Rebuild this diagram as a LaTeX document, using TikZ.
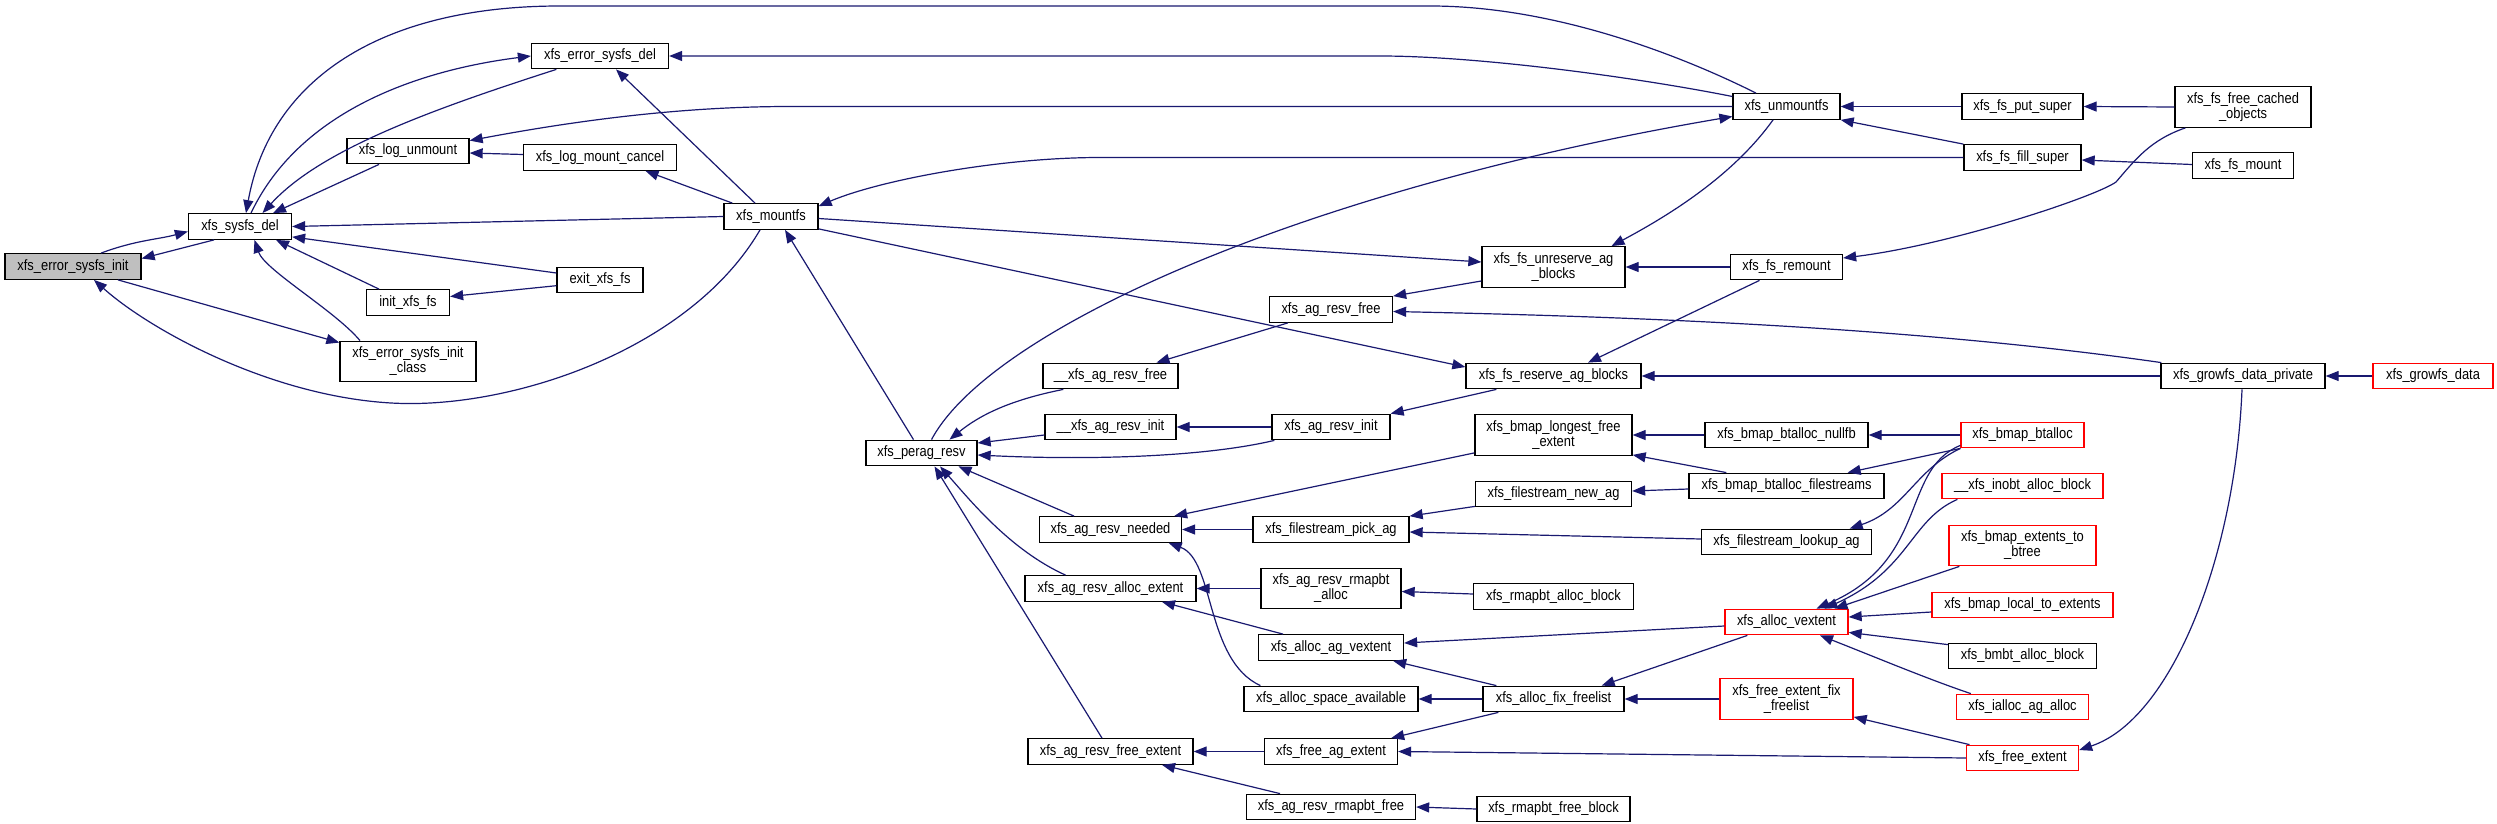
\documentclass[tikz,border=0pt]{standalone}
\usepackage{fontspec}
\setmainfont{Liberation Sans}[FakeStretch=0.86]
\usetikzlibrary{arrows.meta,calc}
\definecolor{edgec}{HTML}{191970}
\definecolor{rootgray}{HTML}{BFBFBF}
\tikzset{
  fn/.style={draw=black, line width=1.3pt, fill=white, rectangle, minimum height=25.5pt, inner sep=0pt, align=center, font=\fontsize{15}{15}\selectfont},
  rootnode/.style={fn, fill=rootgray},
  trunc/.style={fn, draw=red},
  tall/.style={minimum height=40.5pt},
  callarrow/.style={draw=edgec, line width=1.2pt, -{Triangle[length=13pt,width=10pt]}},
}
\begin{document}
\begin{tikzpicture}[x=1pt,y=-1pt]
\fill[white] (0,0) rectangle (2497,824);
\useasboundingbox (0,0) rectangle (2497,824);
% rank A-E
\node[rootnode, minimum width=136pt] (esinit) at (73,266.5) {xfs\_error\_sysfs\_init};
\node[fn, minimum width=103pt] (sysdel) at (240,226.5) {xfs\_sysfs\_del};
\node[fn, minimum width=122pt] (logun) at (408,151) {xfs\_log\_unmount};
\node[fn, minimum width=83pt] (initfs) at (408,302.5) {init\_xfs\_fs};
\node[fn, tall, minimum width=136pt] (esclass) at (408,361.5) {xfs\_error\_sysfs\_init\\\_class};
\node[fn, minimum width=137pt] (esdel) at (600,56) {xfs\_error\_sysfs\_del};
\node[fn, minimum width=153pt] (logcancel) at (600,157.5) {xfs\_log\_mount\_cancel};
\node[fn, minimum width=86pt] (exitfs) at (600,280) {exit\_xfs\_fs};
\node[fn, minimum width=94pt] (mountfs) at (771,216.5) {xfs\_mountfs};
% rank F-G
\node[fn, minimum width=111pt] (perag) at (921.5,453) {xfs\_perag\_resv};
\node[fn, minimum width=135pt] (uagfree) at (1110.5,376) {\_\_xfs\_ag\_resv\_free};
\node[fn, minimum width=131pt] (uaginit) at (1110.5,427) {\_\_xfs\_ag\_resv\_init};
\node[fn, minimum width=142pt] (needed) at (1110.5,529.5) {xfs\_ag\_resv\_needed};
\node[fn, minimum width=171pt] (allocext) at (1110.5,588.5) {xfs\_ag\_resv\_alloc\_extent};
\node[fn, minimum width=165pt] (freeext) at (1110.5,751.5) {xfs\_ag\_resv\_free\_extent};
% rank H
\node[fn, minimum width=123pt] (agfree) at (1331,309.5) {xfs\_ag\_resv\_free};
\node[fn, minimum width=118pt] (aginit) at (1331,427) {xfs\_ag\_resv\_init};
\node[fn, minimum width=156pt] (pickag) at (1331,529.5) {xfs\_filestream\_pick\_ag};
\node[fn, tall, minimum width=140pt] (rmapalloc) at (1331,588.5) {xfs\_ag\_resv\_rmapbt\\\_alloc};
\node[fn, minimum width=145pt] (allocagv) at (1331,647.5) {xfs\_alloc\_ag\_vextent};
\node[fn, minimum width=174pt] (spaceavail) at (1331,699) {xfs\_alloc\_space\_available};
\node[fn, minimum width=133pt] (freeagext) at (1331,751.5) {xfs\_free\_ag\_extent};
\node[fn, minimum width=169pt] (rmapfree) at (1331,807) {xfs\_ag\_resv\_rmapbt\_free};
% rank I
\node[fn, tall, minimum width=143pt] (unreserve) at (1553.5,267) {xfs\_fs\_unreserve\_ag\\\_blocks};
\node[fn, minimum width=175pt] (reserve) at (1553.5,376) {xfs\_fs\_reserve\_ag\_blocks};
\node[fn, tall, minimum width=157pt] (longest) at (1553.5,435) {xfs\_bmap\_longest\_free\\\_extent};
\node[fn, minimum width=156pt] (newag) at (1553.5,494) {xfs\_filestream\_new\_ag};
\node[fn, minimum width=160pt] (rmapallocblk) at (1553.5,596.5) {xfs\_rmapbt\_alloc\_block};
\node[fn, minimum width=141pt] (fixfree) at (1553.5,699) {xfs\_alloc\_fix\_freelist};
\node[fn, minimum width=153pt] (rmapfreeblk) at (1553.5,809) {xfs\_rmapbt\_free\_block};
% rank J
\node[fn, minimum width=107pt] (unmountfs) at (1786.5,106.5) {xfs\_unmountfs};
\node[fn, minimum width=112pt] (remount) at (1786.5,267) {xfs\_fs\_remount};
\node[fn, minimum width=163pt] (nullfb) at (1786.5,435) {xfs\_bmap\_btalloc\_nullfb};
\node[fn, minimum width=195pt] (filestreams) at (1786.5,486) {xfs\_bmap\_btalloc\_filestreams};
\node[fn, minimum width=170pt] (lookupag) at (1786.5,542) {xfs\_filestream\_lookup\_ag};
\node[trunc, minimum width=123pt] (allocv) at (1786.5,622) {xfs\_alloc\_vextent};
\node[trunc, tall, minimum width=133pt] (fefix) at (1786.5,699) {xfs\_free\_extent\_fix\\\_freelist};
% rank K
\node[fn, minimum width=121pt] (putsuper) at (2022.5,106.5) {xfs\_fs\_put\_super};
\node[fn, minimum width=117pt] (fillsuper) at (2022.5,157.5) {xfs\_fs\_fill\_super};
\node[trunc, minimum width=123pt] (btalloc) at (2022.5,435) {xfs\_bmap\_btalloc};
\node[trunc, minimum width=161pt] (inobt) at (2022.5,486) {\_\_xfs\_inobt\_alloc\_block};
\node[trunc, tall, minimum width=147pt] (ext2btree) at (2022.5,545.5) {xfs\_bmap\_extents\_to\\\_btree};
\node[trunc, minimum width=181pt] (local2ext) at (2022.5,605) {xfs\_bmap\_local\_to\_extents};
\node[fn, minimum width=148pt] (bmbtalloc) at (2022.5,656) {xfs\_bmbt\_alloc\_block};
\node[trunc, minimum width=132pt] (iallocag) at (2022.5,707) {xfs\_ialloc\_ag\_alloc};
\node[trunc, minimum width=112pt] (freeextent) at (2022.5,758) {xfs\_free\_extent};
% rank L-M
\node[fn, tall, minimum width=136pt] (freecached) at (2243,107) {xfs\_fs\_free\_cached\\\_objects};
\node[fn, minimum width=101pt] (fsmount) at (2243,165.5) {xfs\_fs\_mount};
\node[fn, minimum width=164pt] (growpriv) at (2243,376) {xfs\_growfs\_data\_private};
\node[trunc, minimum width=120pt] (growfs) at (2433,376) {xfs\_growfs\_data};

% edges
\draw[callarrow] ($(esinit.north)+(28,0)$) .. controls +(35,-13) and +(-30,8) .. ($(sysdel.west)+(0,5)$);
\draw[callarrow] ($(sysdel.south)+(-26,0)$) -- ($(esinit.east)+(0,-8)$);
\draw[callarrow] ($(mountfs.south)+(-11,0)$) .. controls (690,350) and (510,410) .. (391,403) .. controls (270,396) and (150,330) .. ($(esinit.south)+(21,0)$);
\draw[callarrow] ($(esinit.south)+(45,0)$) -- ($(esclass.north west)+(0,2)$);
\draw[callarrow] ($(esclass.north)+(-48,0)$) .. controls +(-25,-30) and +(10,30) .. ($(sysdel.south)+(14.5,0)$);
\draw[callarrow] ($(initfs.north)+(-29,0)$) -- ($(sysdel.south)+(36,0)$);
\draw[callarrow] ($(exitfs.west)+(0,-7)$) -- ($(sysdel.south east)+(0,-3)$);
\draw[callarrow] (mountfs.west) -- (sysdel.east);
\draw[callarrow] ($(logun.south)+(-29,0)$) -- ($(sysdel.north)+(33,0)$);
\draw[callarrow] ($(sysdel.north)+(11,0)$) .. controls (300,110) and (420,70) .. (esdel.west);
\draw[callarrow] ($(esdel.south west)+(25.5,0)$) .. controls (430,110) and (320,150) .. ($(sysdel.north)+(22.5,0)$);
\draw[callarrow] ($(unmountfs.north)+(-30.5,0)$) .. controls (1690,60) and (1560,6) .. (1430,6) -- (560,6) .. controls (380,6) and (270,80) .. ($(sysdel.north)+(6,0)$);
\draw[callarrow] ($(unmountfs.west)+(0,-10)$) .. controls (1640,78) and (1480,56) .. (1380,56) -- (esdel.east);
\draw[callarrow] ($(mountfs.north)+(-16,0)$) -- ($(esdel.south)+(16,0)$);
\draw[callarrow] ($(logcancel.west)+(0,-3)$) -- ($(logun.east)+(0,2)$);
\draw[callarrow] (unmountfs.west) -- (790,106.5) .. controls (700,106.5) and (600,116) .. ($(logun.north east)+(0,3)$);
\draw[callarrow] ($(mountfs.north west)+(9,0)$) -- ($(logcancel.south)+(45.5,0)$);
\draw[callarrow] ($(exitfs.west)+(0,5.7)$) -- ($(initfs.east)+(0,-6)$);
\draw[callarrow] (fillsuper.west) -- (1100,157.5) .. controls (1000,157.5) and (880,180) .. ($(mountfs.north east)+(0,3)$);
\draw[callarrow] ($(mountfs.east)+(0,2)$) -- ($(unreserve.west)+(0,-5)$);
\draw[callarrow] ($(mountfs.south east)+(0,-1)$) -- ($(reserve.west)+(0,-9)$);
\draw[callarrow] ($(perag.north)+(-8,0)$) -- ($(mountfs.south)+(14,0)$);
\draw[callarrow] ($(perag.north)+(10,0)$) .. controls (990,330) and (1300,190) .. ($(unmountfs.west)+(0,10)$);
\draw[callarrow] ($(unmountfs.south)+(-13.5,0)$) .. controls (1730,180) and (1660,220) .. ($(unreserve.north)+(58,0)$);
\draw[callarrow] (remount.west) -- (unreserve.east);
\draw[callarrow] ($(unreserve.west)+(0,14)$) -- (agfree.north east);
\draw[callarrow] ($(growpriv.north west)+(1,0)$) .. controls (1900,325) and (1600,316) .. ($(agfree.east)+(0,2)$);
\draw[callarrow] ($(agfree.south west)+(19,0)$) -- ($(uagfree.north)+(46,0)$);
\draw[callarrow] ($(remount.south)+(-27,0)$) -- ($(reserve.north)+(34.5,0)$);
\draw[callarrow] (growpriv.west) -- (reserve.east);
\draw[callarrow] ($(reserve.south west)+(31,0)$) -- (aginit.north east);
\draw[callarrow] ($(uagfree.south west)+(21,0)$) .. controls (1010,400) and (980,415) .. ($(perag.north)+(28,0)$);
\draw[callarrow] ($(uaginit.west)+(0,8)$) -- ($(perag.east)+(0,-10)$);
\draw[callarrow] ($(aginit.south west)+(3,0)$) .. controls (1200,458) and (1080,460) .. ($(perag.east)+(0,2)$);
\draw[callarrow] (aginit.west) -- (uaginit.east);
\draw[callarrow] ($(needed.north)+(-36.5,0)$) -- ($(perag.south)+(37,0)$);
\draw[callarrow] ($(allocext.north)+(-45,0)$) .. controls (1010,550) and (970,500) .. ($(perag.south)+(18.5,0)$);
\draw[callarrow] ($(freeext.north)+(-8.5,0)$) -- ($(perag.south)+(13,0)$);
\draw[callarrow] ($(longest.south west)+(0,-3)$) -- ($(needed.north east)+(-8,0)$);
\draw[callarrow] (pickag.west) -- (needed.east);
\draw[callarrow] ($(spaceavail.north west)+(17,0)$) .. controls (1205,660) and (1215,560) .. ($(needed.south east)+(-13.5,0)$);
\draw[callarrow] ($(newag.south west)+(0,-1)$) -- (pickag.north east);
\draw[callarrow] ($(lookupag.west)+(0,-3)$) -- ($(pickag.east)+(0,2.5)$);
\draw[callarrow] (rmapalloc.west) -- (allocext.east);
\draw[callarrow] ($(allocagv.north)+(-48,0)$) -- ($(allocext.south)+(51.5,0)$);
\draw[callarrow] ($(rmapallocblk.west)+(0,-2.5)$) -- ($(rmapalloc.east)+(0,3)$);
\draw[callarrow] ($(allocv.west)+(0,4)$) -- ($(allocagv.east)+(0,-4.5)$);
\draw[callarrow] ($(fixfree.north west)+(14,0)$) -- ($(allocagv.south east)+(-11,0)$);
\draw[callarrow] (fixfree.west) -- (spaceavail.east);
\draw[callarrow] ($(allocv.south west)+(23,0)$) -- ($(fixfree.north east)+(-23,0)$);
\draw[callarrow] (fefix.west) -- (fixfree.east);
\draw[callarrow] ($(fixfree.south west)+(16,0)$) -- ($(freeagext.north east)+(-7,0)$);
\draw[callarrow] (freeextent.west) -- (freeagext.east);
\draw[callarrow] (freeagext.west) -- (freeext.east);
\draw[callarrow] ($(rmapfree.north)+(-51,0)$) -- ($(freeext.south)+(51.5,0)$);
\draw[callarrow] (rmapfreeblk.west) -- (rmapfree.east);
\draw[callarrow] (nullfb.west) -- (longest.east);
\draw[callarrow] ($(filestreams.north west)+(38,0)$) -- ($(longest.south east)+(0,-1)$);
\draw[callarrow] ($(filestreams.west)+(0,3)$) -- ($(newag.east)+(0,-3)$);
\draw[callarrow] (putsuper.west) -- (unmountfs.east);
\draw[callarrow] (fillsuper.north west) -- (unmountfs.south east);
\draw[callarrow] (freecached.west) -- (putsuper.east);
\draw[callarrow] ($(fsmount.west)+(0,-1)$) -- ($(fillsuper.east)+(0,2.5)$);
\draw[callarrow] ($(freecached.south west)+(11,0)$) .. controls (2150,140) and (2135,160) .. (2116,182) .. controls (2095,197) and (1950,245) .. ($(remount.east)+(0,-9)$);
\draw[callarrow] (growfs.west) -- (growpriv.east);
\draw[callarrow] ($(growpriv.south)+(-1,0)$) .. controls (2235,560) and (2170,720) .. ($(freeextent.east)+(0,-8)$);
\draw[callarrow] (btalloc.west) -- (nullfb.east);
\draw[callarrow] (btalloc.south west) -- ($(filestreams.north east)+(-37,0)$);
\draw[callarrow] (btalloc.south west) .. controls (1915,470) and (1905,510) .. ($(lookupag.north east)+(-22.5,0)$);
\draw[callarrow] ($(btalloc.south west)+(0,-3)$) .. controls (1900,470) and (1930,560) .. ($(allocv.north)+(30,0)$);
\draw[callarrow] ($(inobt.south west)+(16,0)$) .. controls (1910,520) and (1910,570) .. ($(allocv.north)+(38,0)$);
\draw[callarrow] ($(ext2btree.south west)+(11,0)$) -- ($(allocv.north)+(48,0)$);
\draw[callarrow] ($(local2ext.west)+(0,7)$) -- ($(allocv.east)+(0,-5)$);
\draw[callarrow] ($(bmbtalloc.north west)+(0,2)$) -- ($(allocv.south east)+(0,-3)$);
\draw[callarrow] ($(iallocag.north west)+(15,0)$) .. controls (1930,680) and (1870,655) .. ($(allocv.south)+(33.5,0)$);
\draw[callarrow] ($(freeextent.north west)+(3.6,0)$) -- ($(fefix.south east)+(0,-3)$);
\end{tikzpicture}
\end{document}
